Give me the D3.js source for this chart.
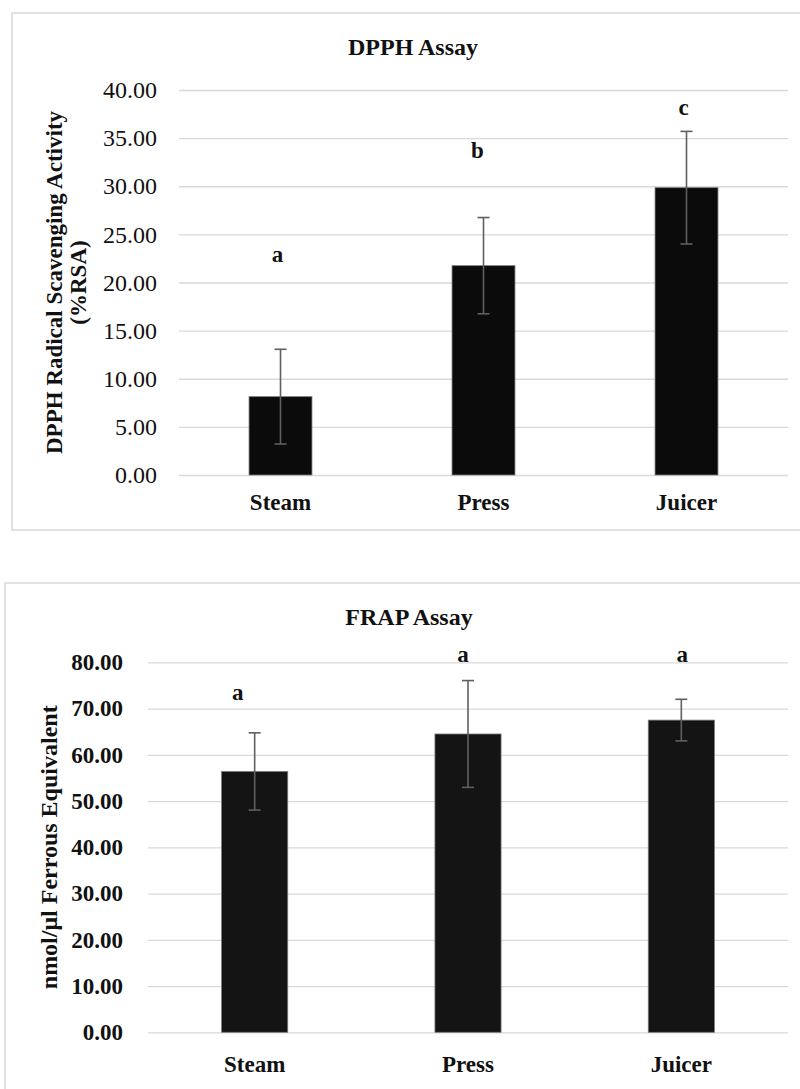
<!DOCTYPE html>
<html>
<head>
<meta charset="utf-8">
<script src="https://cdn.jsdelivr.net/npm/d3@7"></script>
<style>
  body { margin: 0; background: #fff; }
  svg { display: block; }
  .grid line { stroke: #d9d9d9; stroke-width: 1.3; }
  .grid .domain { display: none; }
  .xaxis .domain, .xaxis line { display: none; }
</style>
</head>
<body>
<div id="chart"></div>
<script>
/* global d3 */

var categories = [ "Steam", "Press", "Juicer" ];

// DPPH assay, %RSA
var dpphMeans = [ 8.14, 21.75, 29.85 ];
var dpphErrors = [ 4.92, 5.0, 5.85 ];
var dpphLetters = [ "a", "b", "c" ];
var dpphLetterAt = [ 22.1, 32.9, 37.4 ];
var dpphTicks = [ 0, 5, 10, 15, 20, 25, 30, 35, 40 ];

// FRAP assay, nmol/ul ferrous equivalent
var frapMeans = [ 56.4, 64.5, 67.5 ];
var frapErrors = [ 8.35, 11.55, 4.5 ];
var frapLetters = [ "a", "a", "a" ];
var frapLetterAt = [ 71.8, 80.1, 80.1 ];
var frapTicks = [ 0, 10, 20, 30, 40, 50, 60, 70, 80 ];

var serif = "'Liberation Serif', 'Times New Roman', serif";

var svg = d3.select( "#chart" ).append( "svg" )
  .attr( "width", 800 )
  .attr( "height", 1089 );

function barChart( opt ) {

  var rows = categories.map( function( c, i ) {
    return { cat: c, mean: opt.means[ i ], err: opt.errors[ i ],
      letter: opt.letters[ i ], letterAt: opt.letterAt[ i ], nudge: opt.nudge[ i ] };
  } );

  var g = svg.append( "g" );

  // outer frame (runs off the right edge like the original)
  g.append( "rect" )
    .attr( "x", opt.frame[ 0 ] )
    .attr( "y", opt.frame[ 1 ] )
    .attr( "width", opt.frame[ 2 ] )
    .attr( "height", opt.frame[ 3 ] )
    .attr( "fill", "none" )
    .attr( "stroke", "#d9d9d9" )
    .attr( "stroke-width", 1.5 );

  var x = d3.scaleBand()
    .domain( categories )
    .range( [ opt.left, opt.right ] )
    .paddingInner( 0.69 )
    .paddingOuter( 0.345 );

  var y = d3.scaleLinear()
    .domain( [ 0, d3.max( opt.ticks ) ] )
    .range( [ opt.bottom, opt.top ] );

  // gridlines + tick labels
  var grid = g.append( "g" )
    .attr( "class", "grid" )
    .attr( "transform", "translate(" + opt.left + ",0)" )
    .call( d3.axisLeft( y )
      .tickValues( opt.ticks )
      .tickSize( -( opt.right - opt.left ) )
      .tickPadding( opt.tickPad )
      .tickFormat( d3.format( ".2f" ) ) );
  grid.selectAll( "text" )
    .attr( "fill", "#111" )
    .style( "font-family", serif )
    .style( "font-size", opt.tickSize + "px" )
    .style( "font-weight", opt.tickWeight );

  // category labels
  var xa = g.append( "g" )
    .attr( "class", "xaxis" )
    .attr( "transform", "translate(0," + opt.bottom + ")" )
    .call( d3.axisBottom( x ).tickSize( 0 ).tickPadding( opt.xPad ) );
  xa.selectAll( "text" )
    .attr( "dy", 0 )
    .attr( "fill", "#111" )
    .style( "font-family", serif )
    .style( "font-size", "23px" )
    .style( "font-weight", "bold" );

  // bars
  g.selectAll( ".bar" )
    .data( rows )
    .enter()
    .append( "rect" )
      .attr( "class", "bar" )
      .attr( "x", function( d ) { return x( d.cat ); } )
      .attr( "width", x.bandwidth() )
      .attr( "y", function( d ) { return y( d.mean ); } )
      .attr( "height", function( d ) { return y( 0 ) - y( d.mean ); } )
      .attr( "fill", opt.barFill )
      .attr( "stroke", "#7a7a7a" )
      .attr( "stroke-width", 0.8 );

  // error bars
  var eb = g.selectAll( ".err" )
    .data( rows )
    .enter()
    .append( "g" )
      .attr( "class", "err" )
      .attr( "stroke", "#5f5f5f" )
      .attr( "stroke-width", 1.6 );
  var cx = function( d ) { return x( d.cat ) + x.bandwidth() / 2; };
  eb.append( "line" )
    .attr( "x1", cx ).attr( "x2", cx )
    .attr( "y1", function( d ) { return y( d.mean + d.err ); } )
    .attr( "y2", function( d ) { return y( d.mean - d.err ); } );
  [ 1, -1 ].forEach( function( s ) {
    eb.append( "line" )
      .attr( "x1", function( d ) { return cx( d ) - 6; } )
      .attr( "x2", function( d ) { return cx( d ) + 6; } )
      .attr( "y1", function( d ) { return y( d.mean + s * d.err ); } )
      .attr( "y2", function( d ) { return y( d.mean + s * d.err ); } );
  } );

  // significance letters
  g.selectAll( ".letter" )
    .data( rows )
    .enter()
    .append( "text" )
      .attr( "class", "letter" )
      .attr( "x", function( d ) { return cx( d ) + d.nudge; } )
      .attr( "y", function( d ) { return y( d.letterAt ); } )
      .attr( "text-anchor", "middle" )
      .attr( "fill", "#111" )
      .style( "font-family", serif )
      .style( "font-size", "23px" )
      .style( "font-weight", "bold" )
      .text( function( d ) { return d.letter; } );

  // title
  g.append( "text" )
    .attr( "x", opt.titleX )
    .attr( "y", opt.titleY )
    .attr( "text-anchor", "middle" )
    .attr( "fill", "#111" )
    .style( "font-family", serif )
    .style( "font-size", "24px" )
    .style( "font-weight", "bold" )
    .text( opt.title );

  // y title, one or two lines
  var yt = g.append( "text" )
    .attr( "transform", "translate(" + opt.yTitleX + "," + ( opt.top + opt.bottom ) / 2 + ") rotate(-90)" )
    .attr( "text-anchor", "middle" )
    .attr( "fill", "#111" )
    .style( "font-family", serif )
    .style( "font-size", opt.yTitleSize + "px" )
    .style( "font-weight", "bold" );
  opt.yTitle.forEach( function( line, i ) {
    yt.append( "tspan" )
      .attr( "x", 0 )
      .attr( "dy", i ? 24 : 0 )
      .text( line );
  } );
}

barChart( {
  means: dpphMeans, errors: dpphErrors, letters: dpphLetters, letterAt: dpphLetterAt,
  nudge: [ -3, -6, -3 ], ticks: dpphTicks,
  frame: [ 12, 13, 800, 517 ],
  left: 179, right: 788, top: 90, bottom: 475,
  tickPad: 22, tickSize: 24, tickWeight: "normal", xPad: 35,
  barFill: "#0b0b0b",
  title: "DPPH Assay", titleX: 413, titleY: 55,
  yTitle: [ "DPPH Radical Scavenging Activity", "(%RSA)" ], yTitleX: 62, yTitleSize: 23
} );

barChart( {
  means: frapMeans, errors: frapErrors, letters: frapLetters, letterAt: frapLetterAt,
  nudge: [ -17, -5, 1 ], ticks: frapTicks,
  frame: [ 5, 583, 820, 600 ],
  left: 148, right: 788, top: 662.3, bottom: 1032.3,
  tickPad: 25, tickSize: 23, tickWeight: "bold", xPad: 40,
  barFill: "#141414",
  title: "FRAP Assay", titleX: 409, titleY: 625,
  yTitle: [ "nmol/\u03bcl Ferrous Equivalent" ], yTitleX: 57, yTitleSize: 24
} );
</script>
</body>
</html>
